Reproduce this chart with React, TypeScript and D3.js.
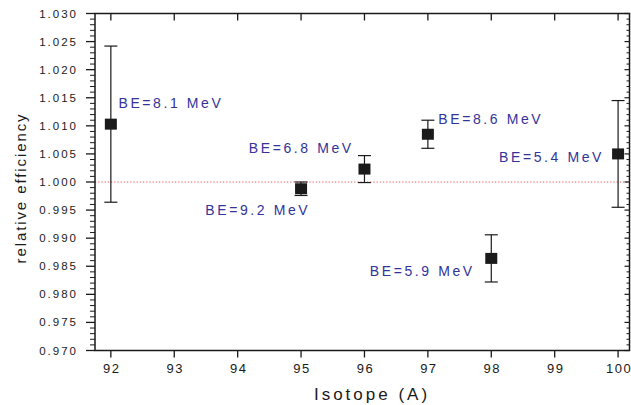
import React from "react";
import * as d3 from "d3";

// measured points: isotope mass number, relative efficiency, +/- error
const isotopes = [92, 95, 96, 97, 98, 100];
const efficiency = [1.0103, 0.9988, 1.0023, 1.0085, 0.9864, 1.005];
const errors = [0.0139, 0.0012, 0.0024, 0.0025, 0.0042, 0.0095];

// binding-energy annotations, anchored in data units (left edge, middle)
const beLabels = ["BE=8.1 MeV", "BE=9.2 MeV", "BE=6.8 MeV", "BE=8.6 MeV", "BE=5.9 MeV", "BE=5.4 MeV"];
const beAtIsotope = [92.12, 93.49, 94.175, 97.164, 96.084, 98.123];
const beAtEff = [1.014, 0.995, 1.006, 1.0113, 0.9842, 1.0045];

const xTicks = [92, 93, 94, 95, 96, 97, 98, 99, 100];
const yTicks = [0.97, 0.975, 0.98, 0.985, 0.99, 0.995, 1.0, 1.005, 1.01, 1.015, 1.02, 1.025, 1.03];

const W = 631;
const H = 405;
const left = 95;
const right = 629.5;
const top = 13.5;
const bottom = 350.5;

const FONT = "'Liberation Sans', Arial, Helvetica, sans-serif";
const INK = "#1a1a1a";
const LABEL = "#33339a";

export default function App() {
  const x = d3.scaleLinear().domain([91.75, 100.18]).range([left, right]);
  const y = d3.scaleLinear().domain([0.97, 1.03]).range([bottom, top]);

  const minorY = d3.range(970, 1031).filter(v => v % 5 !== 0).map(v => v / 1000);
  const fmt = d3.format(".3f");

  const points = isotopes.map((a, i) => ({ a, v: efficiency[i], e: errors[i] }));
  const cap = 6.5;
  const sqW = 12;
  const sqH = 11;

  return (
    <svg
      width={W}
      height={H}
      style={{ position: "absolute", left: 0, top: 0, background: "#fff" }}
      fontFamily={FONT}
    >
      {/* reference line at 1.000 */}
      <line
        x1={left}
        x2={right}
        y1={y(1)}
        y2={y(1)}
        stroke="#ee5555"
        strokeWidth={1}
        strokeDasharray="1.2,2"
      />

      {/* frame */}
      <rect x={left} y={top} width={right - left} height={bottom - top} fill="none" stroke={INK} strokeWidth={1.5} />

      {/* left axis ticks (outward) */}
      {yTicks.map(t => (
        <line key={"ly" + t} x1={left - 9} x2={left} y1={y(t)} y2={y(t)} stroke={INK} strokeWidth={1.3} />
      ))}
      {minorY.map(t => (
        <line key={"lm" + t} x1={left - 5} x2={left} y1={y(t)} y2={y(t)} stroke={INK} strokeWidth={1} />
      ))}
      {/* right axis ticks (inward) */}
      {yTicks.map(t => (
        <line key={"ry" + t} x1={right - 5} x2={right} y1={y(t)} y2={y(t)} stroke={INK} strokeWidth={1.2} />
      ))}
      {minorY.map(t => (
        <line key={"rm" + t} x1={right - 3} x2={right} y1={y(t)} y2={y(t)} stroke={INK} strokeWidth={1} />
      ))}
      {/* top (inward) and bottom (outward) ticks */}
      {xTicks.map(t => (
        <g key={"xt" + t}>
          <line x1={x(t)} x2={x(t)} y1={top} y2={top + 7} stroke={INK} strokeWidth={1.3} />
          <line x1={x(t)} x2={x(t)} y1={bottom} y2={bottom + 7} stroke={INK} strokeWidth={1.3} />
        </g>
      ))}

      {/* tick labels */}
      {yTicks.map(t => (
        <text
          key={"yl" + t}
          x={78}
          y={y(t) + 4}
          textAnchor="end"
          fontSize={11.5}
          letterSpacing={2}
          fill={INK}
        >
          {fmt(t)}
        </text>
      ))}
      {xTicks.map(t => (
        <text
          key={"xl" + t}
          x={x(t) + 1}
          y={372.5}
          textAnchor="middle"
          fontSize={13}
          letterSpacing={1.5}
          fill={INK}
        >
          {t}
        </text>
      ))}

      {/* axis titles */}
      <text x={372} y={400} textAnchor="middle" fontSize={17} letterSpacing={3} fill={INK}>
        Isotope (A)
      </text>
      <text
        transform={`translate(26, 188) rotate(-90)`}
        textAnchor="middle"
        fontSize={15}
        letterSpacing={1.9}
        fill={INK}
      >
        relative efficiency
      </text>

      {/* error bars and markers */}
      {points.map(p => {
        const cx = x(p.a);
        const y1 = y(p.v + p.e);
        const y0 = y(p.v - p.e);
        return (
          <g key={"p" + p.a}>
            <line x1={cx} x2={cx} y1={y1} y2={y0} stroke={INK} strokeWidth={1.2} />
            <line x1={cx - cap} x2={cx + cap} y1={y1} y2={y1} stroke={INK} strokeWidth={1.2} />
            <line x1={cx - cap} x2={cx + cap} y1={y0} y2={y0} stroke={INK} strokeWidth={1.2} />
            <rect x={cx - sqW / 2} y={y(p.v) - sqH / 2} width={sqW} height={sqH} fill={INK} />
          </g>
        );
      })}

      {/* binding energy labels */}
      {beLabels.map((s, i) => (
        <text
          key={s}
          x={x(beAtIsotope[i])}
          y={y(beAtEff[i]) + 5}
          fontSize={14}
          letterSpacing={2.6}
          fill={LABEL}
        >
          {s}
        </text>
      ))}
    </svg>
  );
}
